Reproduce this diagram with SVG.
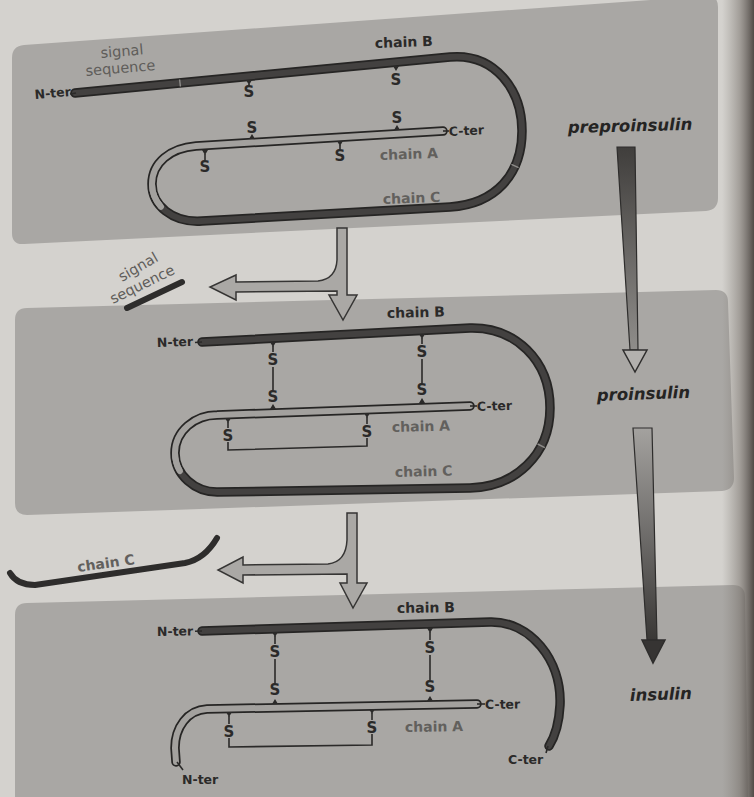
<svg xmlns="http://www.w3.org/2000/svg" width="754" height="797" viewBox="0 0 754 797">
  <defs>
    <linearGradient id="shadeR" x1="0" y1="0" x2="1" y2="0">
      <stop offset="0" stop-color="#8a857f" stop-opacity="0"/>
      <stop offset="0.55" stop-color="#7a746e" stop-opacity="0.55"/>
      <stop offset="1" stop-color="#4a4440" stop-opacity="0.95"/>
    </linearGradient>
    <linearGradient id="shaft1" x1="0" y1="0" x2="0" y2="1">
      <stop offset="0" stop-color="#403e3c"/>
      <stop offset="1" stop-color="#8f8d8a"/>
    </linearGradient>
    <linearGradient id="shaft2" x1="0" y1="0" x2="0" y2="1">
      <stop offset="0" stop-color="#a4a29f"/>
      <stop offset="1" stop-color="#3a3836"/>
    </linearGradient>
    <style>
      .panel { fill: #a9a7a4; }
      .out { fill: none; stroke: #262524; stroke-width: 9.5; stroke-linecap: round; stroke-linejoin: round; }
      .inD { fill: none; stroke: #434140; stroke-width: 6; stroke-linecap: round; stroke-linejoin: round; }
      .inL { fill: none; stroke: #a3a19e; stroke-width: 6; stroke-linecap: butt; stroke-linejoin: round; }
      .inLr { fill: none; stroke: #a3a19e; stroke-width: 6; stroke-linecap: round; stroke-linejoin: round; }
      .sep { stroke: #8f8d8a; stroke-width: 1.4; }
      .thin { fill: none; stroke: #2b2a29; stroke-width: 1.6; }
      .tri { fill: #2b2a29; }
      .s { font-family: "DejaVu Sans", "Liberation Sans", sans-serif; font-weight: bold; font-size: 15px; fill: #2b2a29; text-anchor: middle; }
      .ter { font-family: "DejaVu Sans", "Liberation Sans", sans-serif; font-weight: bold; font-size: 12.5px; fill: #2b2a29; }
      .lb { font-family: "DejaVu Sans", "Liberation Sans", sans-serif; font-weight: bold; font-size: 14px; fill: #2b2a29; }
      .lg { font-family: "DejaVu Sans", "Liberation Sans", sans-serif; font-weight: bold; font-size: 14px; fill: #62605d; }
      .lgn { font-family: "DejaVu Sans", "Liberation Sans", sans-serif; font-size: 14.5px; fill: #5f5d5a; }
      .stage { font-family: "DejaVu Sans", "Liberation Sans", sans-serif; font-weight: bold; font-style: italic; font-size: 16.5px; fill: #252423; }
      .parrow { fill: #aaa8a5; stroke: #363534; stroke-width: 1.5; stroke-linejoin: miter; }
      .frag { fill: none; stroke: #2e2d2c; stroke-width: 6; stroke-linecap: round; stroke-linejoin: round; }
    </style>
  </defs>

  <!-- paper -->
  <rect x="0" y="0" width="754" height="797" fill="#d4d2ce"/>

  <!-- panels -->
  <path class="panel" d="M12,58 Q12,46 24,45 L706,-4 Q718,-5 718,7 L718,198 Q718,210 706,211 L24,244 Q12,245 12,233 Z"/>
  <path class="panel" d="M15,320 Q15,308 27,308 L716,290 Q728,290 728,302 L734,478 Q734,490 722,491 L27,515 Q15,515 15,503 Z"/>
  <path class="panel" d="M15,615 Q15,603 27,603 L733,585 Q745,585 745,597 L748,797 L15,797 Z"/>

  <!-- Panel 1: preproinsulin -->
  <g id="preproinsulin-molecule">
    <path class="out" d="M75,93 L450,57 C495,53 522,90 522,131 C522,175 495,204 450,207 L202,221 C172,223 152,205 152,184 C152,163 170,148 196,146 L443,131"/>
    <path class="inD" d="M75,93 L450,57 C495,53 522,90 522,131 C522,175 495,204 450,207 L202,221 C172,223 152,205 152,184"/>
    <path class="inLr" d="M161,206.7 C155.2,200.3 152,192.4 152,184 C152,163 170,148 196,146 L443,131"/>
    <path class="inL" d="M161,206.7 C155.2,200.3 152,192.4 152,184"/>
    <line class="sep" x1="179.6" y1="79.5" x2="180.4" y2="86.5"/>
    <line class="sep" x1="511.4" y1="164.4" x2="518.6" y2="167.6"/>
    <text class="ter" x="35" y="99" transform="rotate(-5 35 99)">N-ter</text>
    <line class="thin" x1="70" y1="94" x2="76" y2="93"/>
    <line class="thin" x1="443" y1="131" x2="449" y2="131"/>
    <text class="ter" x="449" y="136" transform="rotate(-3 449 136)">C-ter</text>
    <path class="tri" d="M246,80 L252,80 L249,85 Z"/><line class="thin" x1="249" y1="84" x2="249" y2="86"/>
    <text class="s" x="249" y="97">S</text>
    <path class="tri" d="M393,66 L399,66 L396,71 Z"/>
    <text class="s" x="396" y="85">S</text>
    <path class="tri" d="M249,139 L255,139 L252,134 Z"/>
    <text class="s" x="252" y="133">S</text>
    <path class="tri" d="M394,130 L400,130 L397,125 Z"/>
    <text class="s" x="397" y="123">S</text>
    <path class="tri" d="M202,150 L208,150 L205,155 Z"/><line class="thin" x1="205" y1="154" x2="205" y2="160"/>
    <text class="s" x="205" y="172">S</text>
    <path class="tri" d="M337,141 L343,141 L340,146 Z"/><line class="thin" x1="340" y1="145" x2="340" y2="149"/>
    <text class="s" x="340" y="161">S</text>
    <text class="lgn" x="101" y="58" transform="rotate(-5 101 58)">signal</text>
    <text class="lgn" x="86" y="76" transform="rotate(-5 86 76)">sequence</text>
    <text class="lb" x="375" y="48" transform="rotate(-2 375 48)">chain B</text>
    <text class="lg" x="380" y="160" transform="rotate(-2 380 160)">chain A</text>
    <text class="lg" x="383" y="204" transform="rotate(-2 383 204)">chain C</text>
  </g>

  <!-- Panel 2: proinsulin -->
  <g id="proinsulin-molecule">
    <path class="out" d="M202,342 L470,328 C515,327 550,360 550,408 C550,455 515,487 470,488 L217,492 C195,492 175,475 175,453 C175,431 195,415 217,415 L470,406"/>
    <path class="inD" d="M202,342 L470,328 C515,327 550,360 550,408 C550,455 515,487 470,488 L217,492 C195,492 175,475 175,453"/>
    <path class="inLr" d="M179.9,471.1 C176.8,465.75 175,459.6 175,453 C175,431 195,415 217,415 L470,406"/>
    <path class="inL" d="M179.9,471.1 C176.8,465.75 175,459.6 175,453"/>
    <line class="sep" x1="537.6" y1="444" x2="544.8" y2="447.6"/>
    <text class="ter" x="157" y="347" transform="rotate(-2 157 347)">N-ter</text>
    <line class="thin" x1="195" y1="342.5" x2="202" y2="342"/>
    <line class="thin" x1="470" y1="406" x2="477" y2="406"/>
    <text class="ter" x="477" y="411" transform="rotate(-2 477 411)">C-ter</text>
    <path class="tri" d="M270,342 L276,342 L273,347 Z"/><line class="thin" x1="273" y1="346" x2="273" y2="352"/>
    <text class="s" x="273" y="365">S</text>
    <line class="thin" x1="273" y1="367" x2="273" y2="390"/>
    <text class="s" x="273" y="402">S</text>
    <path class="tri" d="M270,409 L276,409 L273,404 Z"/>
    <path class="tri" d="M419,334 L425,334 L422,339 Z"/><line class="thin" x1="422" y1="338" x2="422" y2="344"/>
    <text class="s" x="422" y="357">S</text>
    <line class="thin" x1="422" y1="359" x2="422" y2="383"/>
    <text class="s" x="422" y="395">S</text>
    <path class="tri" d="M419,403 L425,403 L422,398 Z"/>
    <path class="tri" d="M225,418 L231,418 L228,423 Z"/><line class="thin" x1="228" y1="422" x2="228" y2="428"/>
    <text class="s" x="228" y="441">S</text>
    <path class="tri" d="M364,413 L370,413 L367,418 Z"/><line class="thin" x1="367" y1="417" x2="367" y2="424"/>
    <text class="s" x="367" y="437">S</text>
    <path class="thin" d="M228,442 L228,450 L367,446 L367,438"/>
    <text class="lb" x="387" y="318" transform="rotate(-1.5 387 318)">chain B</text>
    <text class="lg" x="392" y="432" transform="rotate(-1.5 392 432)">chain A</text>
    <text class="lg" x="395" y="477" transform="rotate(-1.5 395 477)">chain C</text>
  </g>

  <!-- Panel 3: insulin -->
  <g id="insulin-molecule">
    <path class="out" d="M202,631 L490,622 C530,621 562,660 560,705 C559,725 554,738 549,746"/>
    <path class="inD" d="M202,631 L490,622 C530,621 562,660 560,705 C559,725 554,738 549,746"/>
    <path class="out" d="M176,762 L175,748 C175,728 187,710 207,709 L477,704"/>
    <path class="inLr" d="M176,762 L175,748 C175,728 187,710 207,709 L477,704"/>
    <text class="ter" x="157" y="636" transform="rotate(-1 157 636)">N-ter</text>
    <line class="thin" x1="195" y1="631.3" x2="202" y2="631"/>
    <line class="thin" x1="477" y1="704" x2="485" y2="704"/>
    <text class="ter" x="485" y="709" transform="rotate(-1 485 709)">C-ter</text>
    <line class="thin" x1="548" y1="746" x2="546" y2="753"/>
    <text class="ter" x="508" y="764">C-ter</text>
    <line class="thin" x1="177" y1="762" x2="183" y2="770"/>
    <text class="ter" x="182" y="784">N-ter</text>
    <path class="tri" d="M272,632 L278,632 L275,637 Z"/><line class="thin" x1="275" y1="636" x2="275" y2="644"/>
    <text class="s" x="275" y="657">S</text>
    <line class="thin" x1="275" y1="659" x2="275" y2="683"/>
    <text class="s" x="275" y="695">S</text>
    <path class="tri" d="M272,704 L278,704 L275,699 Z"/>
    <path class="tri" d="M427,628 L433,628 L430,633 Z"/><line class="thin" x1="430" y1="632" x2="430" y2="640"/>
    <text class="s" x="430" y="653">S</text>
    <line class="thin" x1="430" y1="655" x2="430" y2="680"/>
    <text class="s" x="430" y="692">S</text>
    <path class="tri" d="M427,701 L433,701 L430,696 Z"/>
    <path class="tri" d="M226,712 L232,712 L229,717 Z"/><line class="thin" x1="229" y1="716" x2="229" y2="724"/>
    <text class="s" x="229" y="737">S</text>
    <path class="tri" d="M369,709 L375,709 L372,714 Z"/><line class="thin" x1="372" y1="713" x2="372" y2="720"/>
    <text class="s" x="372" y="733">S</text>
    <path class="thin" d="M229,738 L229,747 L372,745 L372,734"/>
    <text class="lb" x="397" y="613" transform="rotate(-1 397 613)">chain B</text>
    <text class="lg" x="405" y="732" transform="rotate(-1 405 732)">chain A</text>
  </g>

  <!-- removed fragments -->
  <g id="signal-fragment">
    <line class="frag" x1="127" y1="308" x2="182" y2="282"/>
    <text class="lgn" x="122" y="282" transform="rotate(-30 122 282)">signal</text>
    <text class="lgn" x="113" y="304" transform="rotate(-26 113 304)">sequence</text>
  </g>
  <g id="chainC-fragment">
    <path class="frag" d="M10,573 C14,580 22,585 35,585 L185,563 C200,560 210,550 217,538"/>
    <text class="lg" x="78" y="572" transform="rotate(-8 78 572)">chain C</text>
  </g>

  <!-- stage labels -->
  <g id="stage-preproinsulin"><text class="stage" x="568" y="133" transform="rotate(-1.5 568 133)">preproinsulin</text></g>
  <g id="stage-proinsulin"><text class="stage" x="597" y="401" transform="rotate(-2 597 401)">proinsulin</text></g>
  <g id="stage-insulin"><text class="stage" x="630" y="701" transform="rotate(-2 630 701)">insulin</text></g>

  <!-- connectors -->
  <g id="connectors">
    <path fill="url(#shaft1)" stroke="#2e2d2c" stroke-width="1.2" d="M617,147 L635,147 L638,350 L630,350 Z"/>
    <path fill="#b3b1ae" stroke="#2e2d2c" stroke-width="1.5" d="M623,350 L647,350 L635,372 Z"/>
    <path fill="url(#shaft2)" stroke="#2e2d2c" stroke-width="1.2" d="M633,428 L652,428 L657,640 L647,640 Z"/>
    <path fill="#363433" stroke="#2e2d2c" stroke-width="1.5" d="M642,640 L665,640 L653,663 Z"/>
    <path class="parrow" d="M337,228 L347,228 L347,295 L357,295 L343,320 L329,295 L337,295 L337,291 L236,292 L236,300 L210,287 L236,275 L236,282 L318,281 Q336,279 337,260 Z"/>
    <path class="parrow" d="M347,513 L357,513 L357,583 L367,583 L353,608 L340,583 L347,583 L347,574 L243,575 L243,583 L218,570 L243,557 L243,565 L328,564 Q346,562 347,540 Z"/>
  </g>

  <!-- page edge shadow -->
  <rect x="722" y="0" width="32" height="797" fill="url(#shadeR)"/>
</svg>
